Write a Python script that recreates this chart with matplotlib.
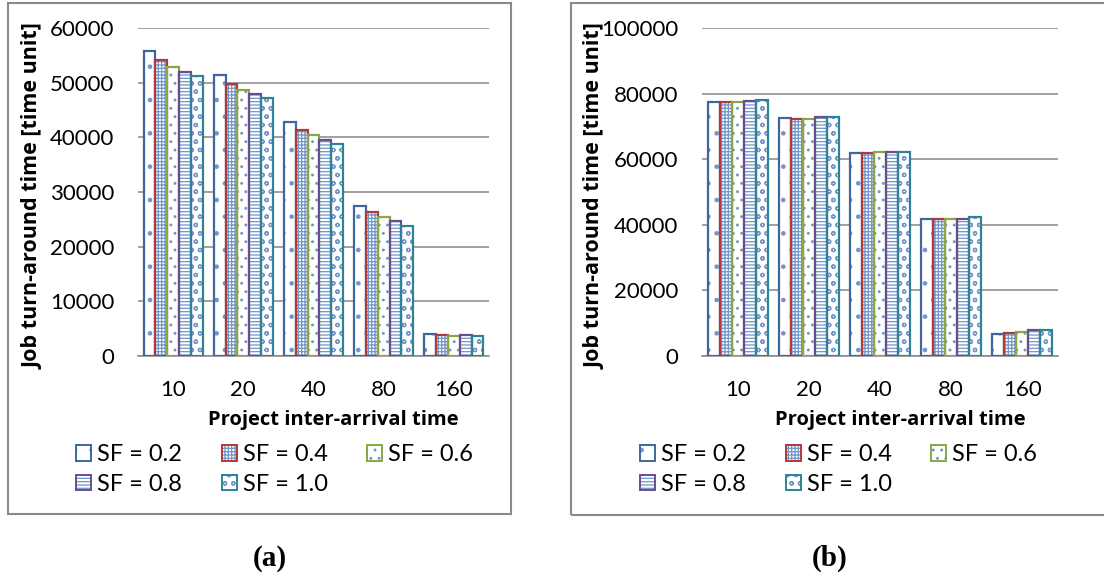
#### Workspace setup ####
import numpy as np
import matplotlib
matplotlib.use('Agg')
import matplotlib.pyplot as plt
from matplotlib.patches import Patch, Rectangle
from matplotlib.legend_handler import HandlerTuple

plt.rcParams['font.family'] = ['Lato', 'DejaVu Sans']
plt.rcParams['hatch.linewidth'] = 0.9

W, H = 1104, 576

#### Data ####
arrival_times = ['10', '20', '40', '80', '160']
sf_labels = ['SF = 0.2', 'SF = 0.4', 'SF = 0.6', 'SF = 0.8', 'SF = 1.0']

# panel (a), one list per SF value
a_sf02 = [55800, 51350, 42850, 27450, 3950]
a_sf04 = [54100, 49750, 41350, 26350, 3900]
a_sf06 = [52850, 48600, 40350, 25450, 3700]
a_sf08 = [51900, 47850, 39450, 24700, 3900]
a_sf10 = [51300, 47200, 38850, 23800, 3700]

# panel (b)
b_sf02 = [77350, 72550, 62000, 41850, 6800]
b_sf04 = [77450, 72350, 61900, 41750, 7000]
b_sf06 = [77450, 72350, 62100, 41750, 7300]
b_sf08 = [77750, 72850, 62200, 41850, 7800]
b_sf10 = [78050, 72750, 62300, 42300, 7950]

#### Styles ####
edge_colors = ['#3F679E', '#B03A38', '#86A845', '#6A4D8E', '#2F8397']
hatches = ['.', '+++++', '..', '-----', 'oo']
hatch_color = '#7096CA'
grid_color = '#868686'
box_color = '#8A8A8A'
label_font = ['Open Sans', 'DejaVu Sans']
bar_w = 0.168
# legend is filled column by column, so reorder to read row by row like Excel
legend_order = [0, 3, 1, 4, 2]


def fig_rect(x0, y0, x1, y1):
    '''Pixel box (top-left origin) to figure fraction rect.'''
    return [x0 / W, 1 - y1 / H, (x1 - x0) / W, (y1 - y0) / H]


def draw_panel(ax, series, ymax, ystep, ylabel_x, legend_x):
    x = np.arange(len(arrival_times))
    handles = []
    for i, vals in enumerate(series):
        xs = x + (i - 2) * bar_w
        # hatch layer (hatch takes the edge colour, so draw it separately)
        ax.bar(xs, vals, bar_w, color='white', edgecolor=hatch_color,
               linewidth=0, hatch=hatches[i], zorder=2)
        ax.bar(xs, vals, bar_w, fill=False, edgecolor=edge_colors[i],
               linewidth=1.6, zorder=3)
        h1 = Patch(facecolor='white', edgecolor=hatch_color, linewidth=0, hatch=hatches[i])
        h2 = Patch(fill=False, edgecolor=edge_colors[i], linewidth=1.4)
        handles.append((h1, h2))

    ax.set_xlim(-0.5, len(arrival_times) - 0.5)
    ax.set_ylim(0, ymax)
    ax.set_yticks(np.arange(0, ymax + 1, ystep))
    ax.set_xticks(x, arrival_times)
    ax.tick_params(length=0, labelsize=16)
    ax.tick_params(axis='x', pad=17)
    ax.tick_params(axis='y', pad=17)

    ax.set_axisbelow(True)
    ax.yaxis.grid(True, color=grid_color, linewidth=1.1)
    for s in ['top', 'right', 'left']:
        ax.spines[s].set_visible(False)
    ax.spines['bottom'].set_color(grid_color)
    ax.spines['bottom'].set_linewidth(1.1)

    ax.set_ylabel('Job turn-around time [time unit]', fontsize=15.5,
                  fontweight='bold', family=label_font)
    ax.yaxis.set_label_coords(ylabel_x, 0.488)
    ax.set_xlabel('Project inter-arrival time', fontsize=14.5,
                  fontweight='bold', family=label_font)
    ax.xaxis.set_label_coords(0.556, -0.165)

    fig.legend([handles[k] for k in legend_order], [sf_labels[k] for k in legend_order],
               handler_map={tuple: HandlerTuple(ndivide=1, pad=0)},
               loc='upper left', bbox_to_anchor=(legend_x / W, 1 - 444 / H),
               ncol=3, frameon=False, fontsize=17, borderpad=0, borderaxespad=0,
               handlelength=0.64, handleheight=0.64, handletextpad=0.25,
               columnspacing=1.68, labelspacing=0.38)


#### Figure ####
fig = plt.figure(figsize=(W / 100, H / 100), dpi=100)

ax_a = fig.add_axes(fig_rect(138, 28, 489, 356))
draw_panel(ax_a, [a_sf02, a_sf04, a_sf06, a_sf08, a_sf10], 60000, 10000, -0.27, 76)

ax_b = fig.add_axes(fig_rect(702, 28, 1058, 356))
draw_panel(ax_b, [b_sf02, b_sf04, b_sf06, b_sf08, b_sf10], 100000, 20000, -0.272, 640)

# outer chart boxes
fig.patches.append(Rectangle((8 / W, 1 - 514 / H), 503 / W, 511 / H, fill=False,
                             edgecolor=box_color, linewidth=1.5, transform=fig.transFigure))
fig.patches.append(Rectangle((571 / W, 1 - 515 / H), 540 / W, 512 / H, fill=False,
                             edgecolor=box_color, linewidth=1.5, transform=fig.transFigure))

# panel captions
fig.text(270 / W, 1 - 558 / H, '(a)', family='Liberation Serif', fontweight='bold',
         fontsize=21, ha='center', va='center')
fig.text(830 / W, 1 - 558 / H, '(b)', family='Liberation Serif', fontweight='bold',
         fontsize=21, ha='center', va='center')

fig.savefig('out.png', dpi=100)
